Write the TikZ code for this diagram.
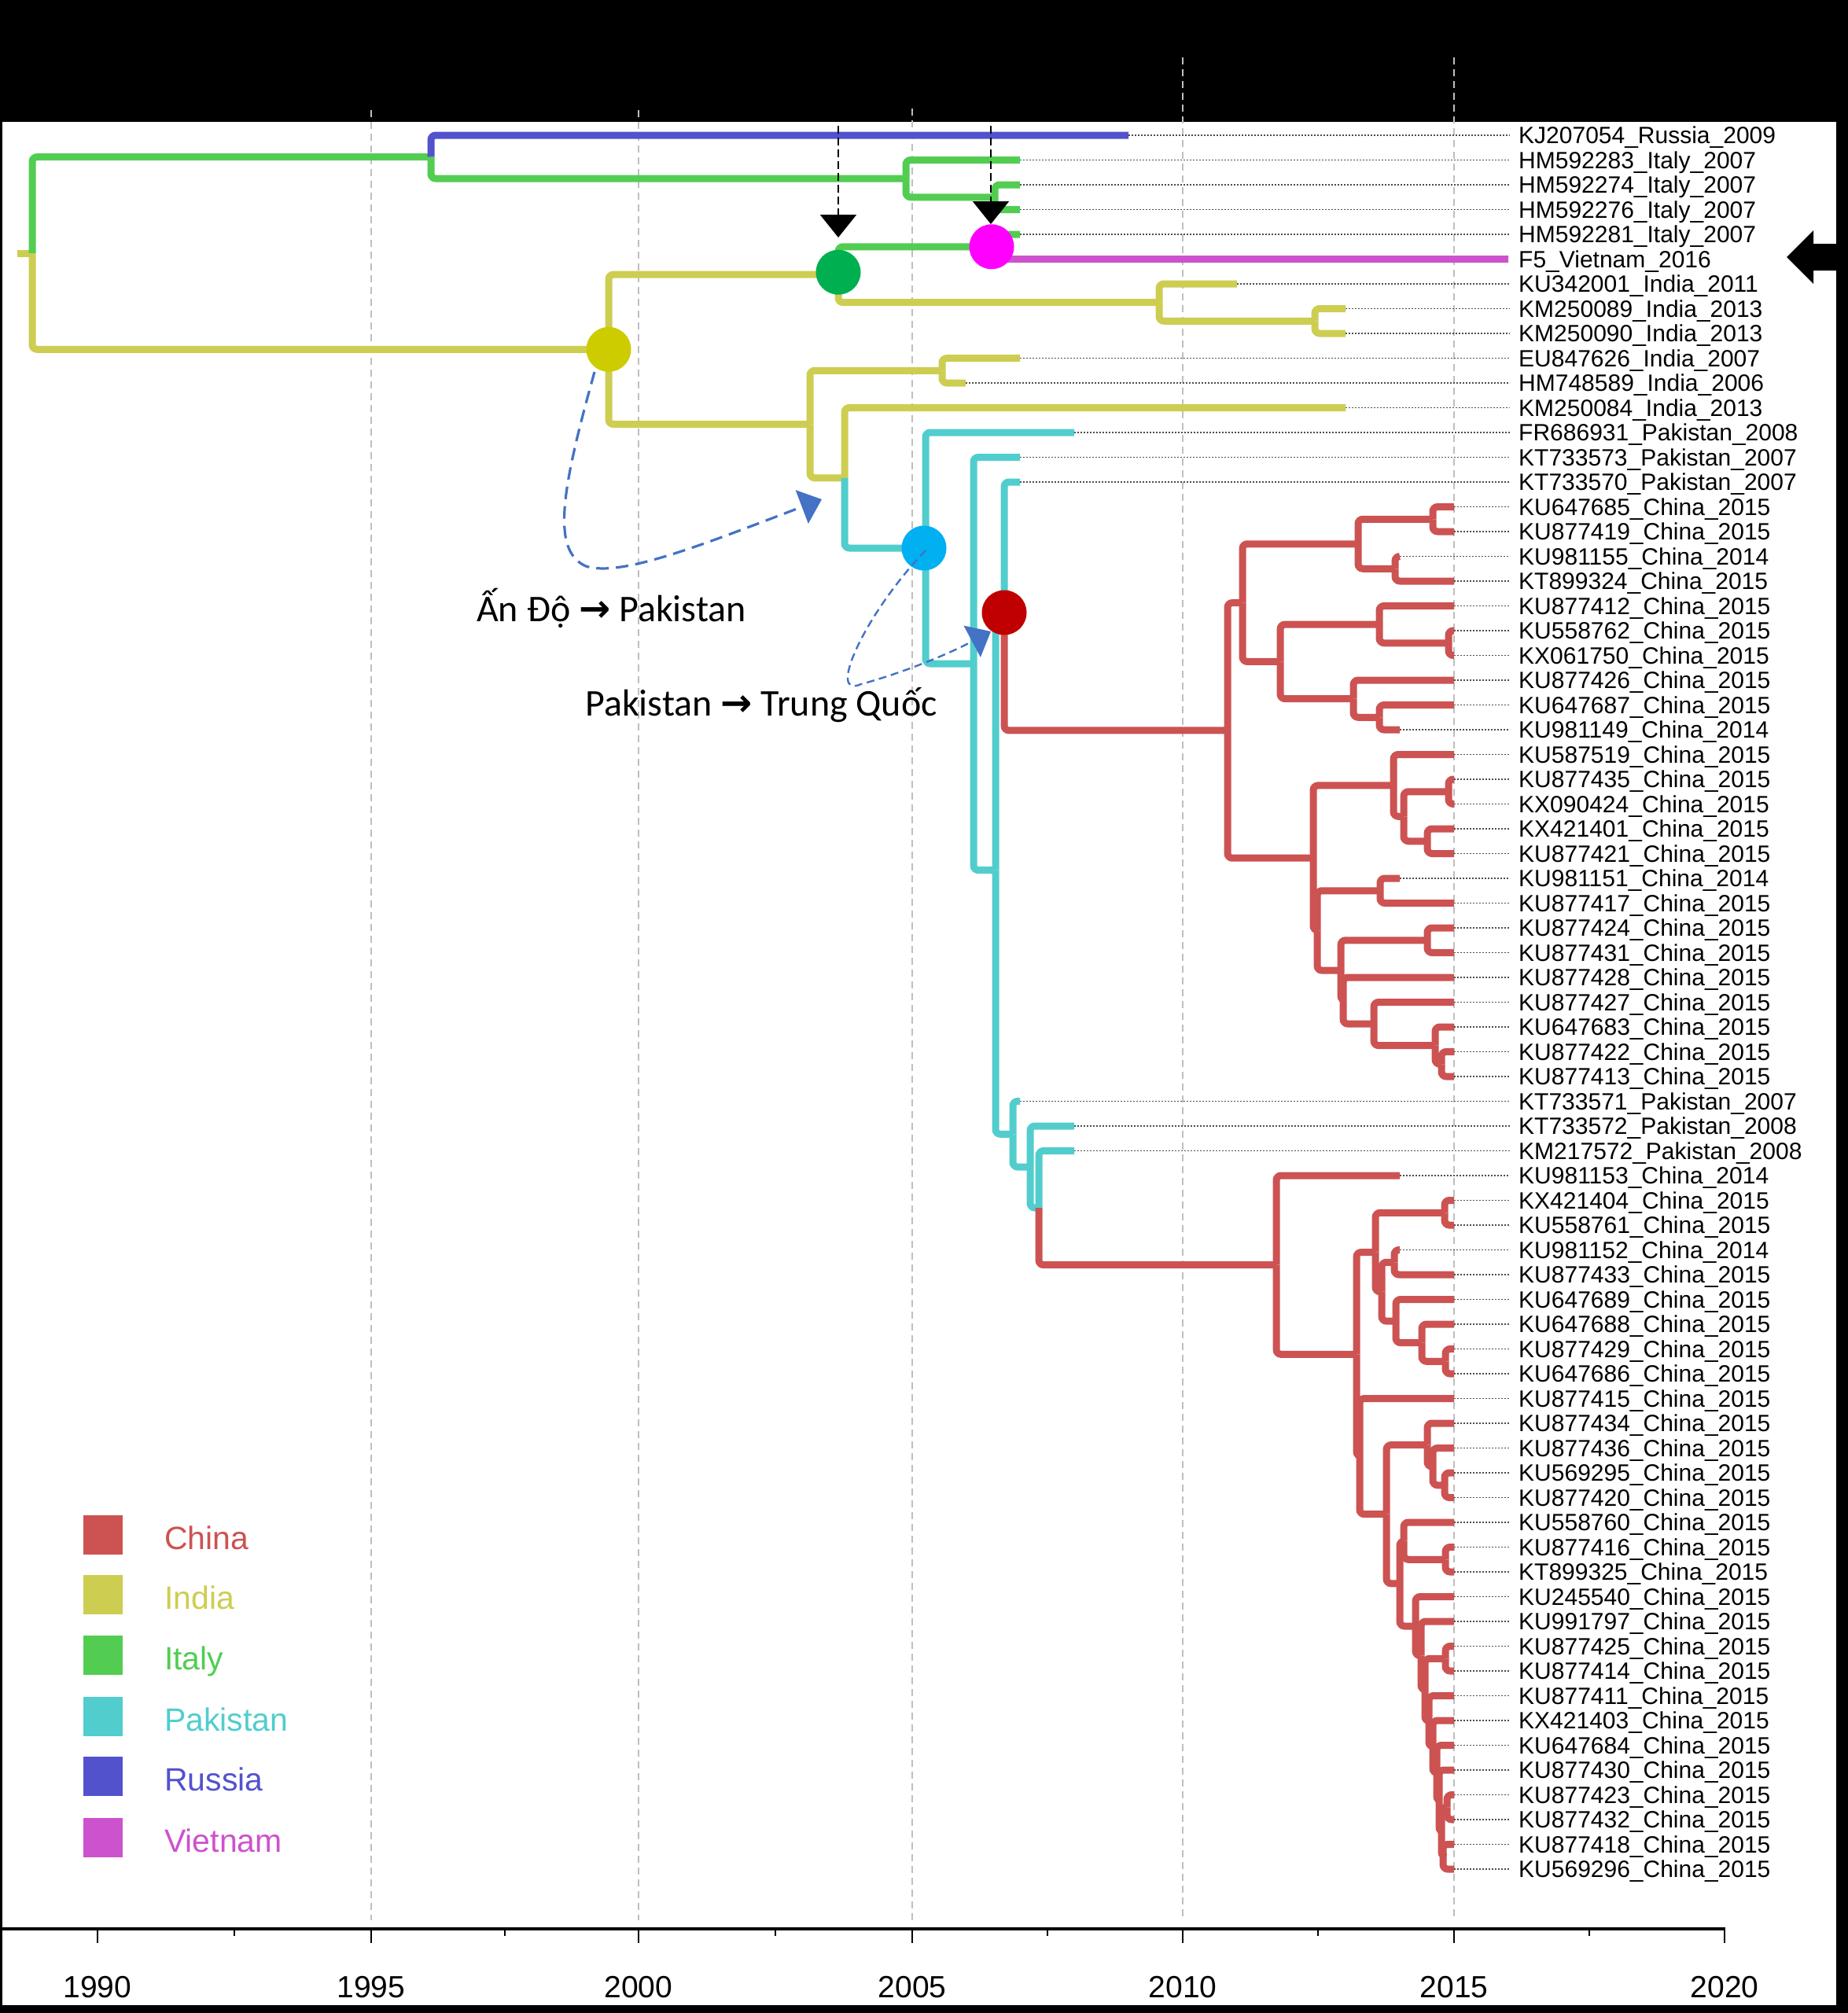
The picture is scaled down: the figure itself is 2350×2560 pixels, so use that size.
\documentclass[tikz,border=0pt]{standalone}
\usepackage{fontspec}
\setmainfont{Liberation Sans}
\newfontfamily\calib{Carlito}
\newfontfamily\dv{DejaVu Sans}
\usetikzlibrary{arrows.meta}
\definecolor{cChina}{RGB}{205,82,82}
\definecolor{cIndia}{RGB}{205,205,82}
\definecolor{cItaly}{RGB}{82,205,82}
\definecolor{cPak}{RGB}{82,205,205}
\definecolor{cRus}{RGB}{82,82,205}
\definecolor{cVN}{RGB}{205,82,205}
\definecolor{annblue}{RGB}{68,114,196}
\definecolor{nYellow}{RGB}{204,204,0}
\definecolor{nGreen}{RGB}{0,176,80}
\definecolor{nMag}{RGB}{255,0,255}
\definecolor{nCyan}{RGB}{0,176,240}
\definecolor{nRed}{RGB}{192,0,0}
\newcommand\mytip[3]{%
  \pgfmathsetmacro\tipy{172+(#1-1)*31.5}%
  \coordinate (t#1) at (#2,\tipy);
  \node[lab] (l#1) at (1931,\tipy) {#3};
  \draw[leader] (t#1) -- ([xshift=-11pt]l#1.west);
}
\newcommand\tbr[3]{\draw[branch,draw=#1] (#2) |- (#3);}
\begin{document}
\begin{tikzpicture}[x=1pt,y=-1pt,
  branch/.style={line width=9pt, rounded corners=6pt},
  leader/.style={draw=black!70, line width=1.8pt, dash pattern=on 1.6pt off 2.4pt},
  gridln/.style={draw=black!25, line width=2pt, dash pattern=on 9pt off 6pt},
  lab/.style={anchor=west, inner sep=0pt, text height=21pt, text depth=0pt, font=\fontsize{30}{36}\selectfont},
  ndot/.style={circle, minimum size=57pt, inner sep=0pt, draw=none},
  blackarr/.style={draw=black, line width=2pt, dash pattern=on 10pt off 5pt, -{Triangle[width=46pt,length=29pt]}},
  annarr/.style={draw=annblue, line width=3.2pt, dash pattern=on 16pt off 9pt, -{Triangle[width=45pt,length=27pt]}},
  annarrthin/.style={draw=annblue, line width=2.4pt, dash pattern=on 10pt off 6pt, -{Triangle[width=45pt,length=27pt]}},
  ann/.style={anchor=base west, inner sep=0pt, font=\calib\fontsize{48}{58}\selectfont},
  legsq/.style={minimum size=50pt, inner sep=0pt, draw=none},
  leglab/.style={anchor=west, inner sep=0pt, text height=29pt, text depth=0pt, font=\fontsize{41}{49}\selectfont},
  yearlab/.style={anchor=center, inner sep=0pt, text height=28pt, text depth=0pt, font=\fontsize{39}{47}\selectfont}
]
\useasboundingbox (0,0) rectangle (2350,2560);
\fill[black] (0,0) rectangle (2350,2560);
\fill[white] (3,155) rectangle (2335,2550);

% grid lines
\foreach \gx/\gy in {472/140, 812/140, 1160/138, 1504/73, 1849/73}
  \draw[gridln] (\gx,\gy) -- (\gx,2442);

% tips
\mytip{1}{1435}{KJ207054\_Russia\_2009}
\mytip{2}{1297}{HM592283\_Italy\_2007}
\mytip{3}{1297}{HM592274\_Italy\_2007}
\mytip{4}{1297}{HM592276\_Italy\_2007}
\mytip{5}{1297}{HM592281\_Italy\_2007}
\coordinate (t6) at (1918,329.5);
\node[lab] (l6) at (1931,329.5) {F5\_Vietnam\_2016};
\mytip{7}{1573}{KU342001\_India\_2011}
\mytip{8}{1711}{KM250089\_India\_2013}
\mytip{9}{1711}{KM250090\_India\_2013}
\mytip{10}{1297}{EU847626\_India\_2007}
\mytip{11}{1228}{HM748589\_India\_2006}
\mytip{12}{1711}{KM250084\_India\_2013}
\mytip{13}{1366}{FR686931\_Pakistan\_2008}
\mytip{14}{1297}{KT733573\_Pakistan\_2007}
\mytip{15}{1297}{KT733570\_Pakistan\_2007}
\mytip{16}{1849}{KU647685\_China\_2015}
\mytip{17}{1849}{KU877419\_China\_2015}
\mytip{18}{1780}{KU981155\_China\_2014}
\mytip{19}{1849}{KT899324\_China\_2015}
\mytip{20}{1849}{KU877412\_China\_2015}
\mytip{21}{1849}{KU558762\_China\_2015}
\mytip{22}{1849}{KX061750\_China\_2015}
\mytip{23}{1849}{KU877426\_China\_2015}
\mytip{24}{1849}{KU647687\_China\_2015}
\mytip{25}{1780}{KU981149\_China\_2014}
\mytip{26}{1849}{KU587519\_China\_2015}
\mytip{27}{1849}{KU877435\_China\_2015}
\mytip{28}{1849}{KX090424\_China\_2015}
\mytip{29}{1849}{KX421401\_China\_2015}
\mytip{30}{1849}{KU877421\_China\_2015}
\mytip{31}{1780}{KU981151\_China\_2014}
\mytip{32}{1849}{KU877417\_China\_2015}
\mytip{33}{1849}{KU877424\_China\_2015}
\mytip{34}{1849}{KU877431\_China\_2015}
\mytip{35}{1849}{KU877428\_China\_2015}
\mytip{36}{1849}{KU877427\_China\_2015}
\mytip{37}{1849}{KU647683\_China\_2015}
\mytip{38}{1849}{KU877422\_China\_2015}
\mytip{39}{1849}{KU877413\_China\_2015}
\mytip{40}{1297}{KT733571\_Pakistan\_2007}
\mytip{41}{1366}{KT733572\_Pakistan\_2008}
\mytip{42}{1366}{KM217572\_Pakistan\_2008}
\mytip{43}{1780}{KU981153\_China\_2014}
\mytip{44}{1849}{KX421404\_China\_2015}
\mytip{45}{1849}{KU558761\_China\_2015}
\mytip{46}{1780}{KU981152\_China\_2014}
\mytip{47}{1849}{KU877433\_China\_2015}
\mytip{48}{1849}{KU647689\_China\_2015}
\mytip{49}{1849}{KU647688\_China\_2015}
\mytip{50}{1849}{KU877429\_China\_2015}
\mytip{51}{1849}{KU647686\_China\_2015}
\mytip{52}{1849}{KU877415\_China\_2015}
\mytip{53}{1849}{KU877434\_China\_2015}
\mytip{54}{1849}{KU877436\_China\_2015}
\mytip{55}{1849}{KU569295\_China\_2015}
\mytip{56}{1849}{KU877420\_China\_2015}
\mytip{57}{1849}{KU558760\_China\_2015}
\mytip{58}{1849}{KU877416\_China\_2015}
\mytip{59}{1849}{KT899325\_China\_2015}
\mytip{60}{1849}{KU245540\_China\_2015}
\mytip{61}{1849}{KU991797\_China\_2015}
\mytip{62}{1849}{KU877425\_China\_2015}
\mytip{63}{1849}{KU877414\_China\_2015}
\mytip{64}{1849}{KU877411\_China\_2015}
\mytip{65}{1849}{KX421403\_China\_2015}
\mytip{66}{1849}{KU647684\_China\_2015}
\mytip{67}{1849}{KU877430\_China\_2015}
\mytip{68}{1849}{KU877423\_China\_2015}
\mytip{69}{1849}{KU877432\_China\_2015}
\mytip{70}{1849}{KU877418\_China\_2015}
\mytip{71}{1849}{KU569296\_China\_2015}

% internal nodes
\coordinate (rs) at (22,322);
\coordinate (root) at (41,322);
\coordinate (A) at (548,199.6);
\coordinate (I1) at (1152,227.1);
\coordinate (I2) at (1265,250.75);
\coordinate (B) at (774,444.3);
\coordinate (G) at (1066,349.2);
\coordinate (M) at (1263,313.75);
\coordinate (N1) at (1474,384.6);
\coordinate (N2) at (1672,408.25);
\coordinate (P1) at (1030,539.5);
\coordinate (P2) at (1198,471.25);
\coordinate (P3) at (1074,607.75);
\coordinate (Q) at (1177,697);
\coordinate (Q2) at (1238,844);
\coordinate (Y) at (1266,1106.6);
\coordinate (X) at (1277,771);
\coordinate (Z1) at (1288,1442.3);
\coordinate (Z2) at (1310,1484);
\coordinate (Z3) at (1321,1536);
\coordinate (R1) at (1561,928.9);
\coordinate (R2) at (1580,766.6);
\coordinate (R3) at (1727,691.75);
\coordinate (R4) at (1822,660.25);
\coordinate (R5) at (1774,723.25);
\coordinate (R6) at (1628,841.4);
\coordinate (R7) at (1754,794.1);
\coordinate (R8) at (1842,817.75);
\coordinate (R9) at (1721,888.6);
\coordinate (R10) at (1754,912.25);
\coordinate (R11) at (1670,1091.2);
\coordinate (R12) at (1772,998.9);
\coordinate (R13) at (1785,1038.25);
\coordinate (R14) at (1842,1006.75);
\coordinate (R15) at (1815,1069.75);
\coordinate (R16) at (1675,1183.4);
\coordinate (R17) at (1755,1132.75);
\coordinate (R18) at (1705,1234.1);
\coordinate (R19) at (1815,1195.75);
\coordinate (R18b) at (1708,1272.5);
\coordinate (R22) at (1747,1302.1);
\coordinate (R23) at (1825,1329.6);
\coordinate (R24) at (1833,1353.25);
\coordinate (C1) at (1623,1608.6);
\coordinate (C2) at (1725,1722.3);
\coordinate (C3) at (1749,1592.5);
\coordinate (C4) at (1837,1542.25);
\coordinate (C3b) at (1757,1642.7);
\coordinate (C5) at (1773,1605.25);
\coordinate (C6) at (1775,1680.1);
\coordinate (C7) at (1808,1707.6);
\coordinate (C8) at (1838,1731.25);
\coordinate (C9) at (1729,1852.1);
\coordinate (C10) at (1763,1925.7);
\coordinate (C11) at (1815,1837.6);
\coordinate (C11b) at (1822,1865.1);
\coordinate (C11c) at (1837,1888.75);
\coordinate (C12) at (1780,2013.8);
\coordinate (C13) at (1785,1959.6);
\coordinate (C13b) at (1838,1983.25);
\coordinate (C15) at (1800,2068);
\coordinate (C15b) at (1807,2105.6);
\coordinate (C15c) at (1812,2149.1);
\coordinate (C16) at (1838,2109.25);
\coordinate (C15d) at (1817,2189);
\coordinate (C15e) at (1822,2221.5);
\coordinate (C15f) at (1827,2254.9);
\coordinate (C15g) at (1830,2290.4);
\coordinate (C15h) at (1833,2329.75);
\coordinate (C17) at (1840,2298.25);
\coordinate (C18) at (1835,2361.25);

% branches
\draw[branch,draw=cIndia,rounded corners=0pt] (rs) -- (root);
\tbr{cItaly}{root}{A} \tbr{cIndia}{root}{B}
\tbr{cRus}{A}{t1} \tbr{cItaly}{A}{I1}
\tbr{cItaly}{I1}{t2} \tbr{cItaly}{I1}{I2}
\tbr{cItaly}{I2}{t3} \tbr{cItaly}{I2}{t4}
\tbr{cIndia}{B}{G} \tbr{cIndia}{B}{P1}
\tbr{cItaly}{G}{M} \tbr{cIndia}{G}{N1}
\tbr{cItaly}{M}{t5} \tbr{cVN}{M}{t6}
\tbr{cIndia}{N1}{t7} \tbr{cIndia}{N1}{N2}
\tbr{cIndia}{N2}{t8} \tbr{cIndia}{N2}{t9}
\tbr{cIndia}{P1}{P2} \tbr{cIndia}{P1}{P3}
\tbr{cIndia}{P2}{t10} \tbr{cIndia}{P2}{t11}
\tbr{cIndia}{P3}{t12} \tbr{cPak}{P3}{Q}
\tbr{cPak}{Q}{t13} \tbr{cPak}{Q}{Q2}
\tbr{cPak}{Q2}{t14} \tbr{cPak}{Q2}{Y}
\tbr{cPak}{Y}{X} \tbr{cPak}{Y}{Z1}
\tbr{cPak}{X}{t15} \tbr{cChina}{X}{R1}
\tbr{cPak}{Z1}{t40} \tbr{cPak}{Z1}{Z2}
\tbr{cPak}{Z2}{t41} \tbr{cPak}{Z2}{Z3}
\tbr{cPak}{Z3}{t42} \tbr{cChina}{Z3}{C1}
% red clade 1
\tbr{cChina}{R1}{R2} \tbr{cChina}{R1}{R11}
\tbr{cChina}{R2}{R3} \tbr{cChina}{R2}{R6}
\tbr{cChina}{R3}{R4} \tbr{cChina}{R3}{R5}
\tbr{cChina}{R4}{t16} \tbr{cChina}{R4}{t17}
\tbr{cChina}{R5}{t18} \tbr{cChina}{R5}{t19}
\tbr{cChina}{R6}{R7} \tbr{cChina}{R6}{R9}
\tbr{cChina}{R7}{t20} \tbr{cChina}{R7}{R8}
\tbr{cChina}{R8}{t21} \tbr{cChina}{R8}{t22}
\tbr{cChina}{R9}{t23} \tbr{cChina}{R9}{R10}
\tbr{cChina}{R10}{t24} \tbr{cChina}{R10}{t25}
\tbr{cChina}{R11}{R12} \tbr{cChina}{R11}{R16}
\tbr{cChina}{R12}{t26} \tbr{cChina}{R12}{R13}
\tbr{cChina}{R13}{R14} \tbr{cChina}{R13}{R15}
\tbr{cChina}{R14}{t27} \tbr{cChina}{R14}{t28}
\tbr{cChina}{R15}{t29} \tbr{cChina}{R15}{t30}
\tbr{cChina}{R16}{R17} \tbr{cChina}{R16}{R18}
\tbr{cChina}{R17}{t31} \tbr{cChina}{R17}{t32}
\tbr{cChina}{R18}{R19} \tbr{cChina}{R18}{R18b}
\tbr{cChina}{R19}{t33} \tbr{cChina}{R19}{t34}
\tbr{cChina}{R18b}{t35} \tbr{cChina}{R18b}{R22}
\tbr{cChina}{R22}{t36} \tbr{cChina}{R22}{R23}
\tbr{cChina}{R23}{t37} \tbr{cChina}{R23}{R24}
\tbr{cChina}{R24}{t38} \tbr{cChina}{R24}{t39}
% red clade 2
\tbr{cChina}{C1}{t43} \tbr{cChina}{C1}{C2}
\tbr{cChina}{C2}{C3} \tbr{cChina}{C2}{C9}
\tbr{cChina}{C3}{C4} \tbr{cChina}{C3}{C3b}
\tbr{cChina}{C4}{t44} \tbr{cChina}{C4}{t45}
\tbr{cChina}{C3b}{C5} \tbr{cChina}{C3b}{C6}
\tbr{cChina}{C5}{t46} \tbr{cChina}{C5}{t47}
\tbr{cChina}{C6}{t48} \tbr{cChina}{C6}{C7}
\tbr{cChina}{C7}{t49} \tbr{cChina}{C7}{C8}
\tbr{cChina}{C8}{t50} \tbr{cChina}{C8}{t51}
\tbr{cChina}{C9}{t52} \tbr{cChina}{C9}{C10}
\tbr{cChina}{C10}{C11} \tbr{cChina}{C10}{C12}
\tbr{cChina}{C11}{t53} \tbr{cChina}{C11}{C11b}
\tbr{cChina}{C11b}{t54} \tbr{cChina}{C11b}{C11c}
\tbr{cChina}{C11c}{t55} \tbr{cChina}{C11c}{t56}
\tbr{cChina}{C12}{C13} \tbr{cChina}{C12}{C15}
\tbr{cChina}{C13}{t57} \tbr{cChina}{C13}{C13b}
\tbr{cChina}{C13b}{t58} \tbr{cChina}{C13b}{t59}
\tbr{cChina}{C15}{t60} \tbr{cChina}{C15}{C15b}
\tbr{cChina}{C15b}{t61} \tbr{cChina}{C15b}{C15c}
\tbr{cChina}{C15c}{C16} \tbr{cChina}{C15c}{C15d}
\tbr{cChina}{C16}{t62} \tbr{cChina}{C16}{t63}
\tbr{cChina}{C15d}{t64} \tbr{cChina}{C15d}{C15e}
\tbr{cChina}{C15e}{t65} \tbr{cChina}{C15e}{C15f}
\tbr{cChina}{C15f}{t66} \tbr{cChina}{C15f}{C15g}
\tbr{cChina}{C15g}{t67} \tbr{cChina}{C15g}{C15h}
\tbr{cChina}{C15h}{C17} \tbr{cChina}{C15h}{C18}
\tbr{cChina}{C17}{t68} \tbr{cChina}{C17}{t69}
\tbr{cChina}{C18}{t70} \tbr{cChina}{C18}{t71}

% highlighted nodes
\node[ndot, fill=nYellow] (cB) at (B) {};
\node[ndot, fill=nGreen] (cG) at ([yshift=3pt]G) {};
\node[ndot, fill=nMag] (cM) at ([xshift=-2pt]M) {};
\node[ndot, fill=nCyan] (cQ) at ([xshift=-2pt]Q) {};
\node[ndot, fill=nRed] (cX) at ([yshift=-8pt]X) {};

% black dashed arrows from the top
\coordinate (ga0) at (1066,130);
\coordinate (ga1) at (1066,302);
\coordinate (ma0) at (1260,130);
\coordinate (ma1) at (1260,285);
\draw[blackarr] (ga0) -- (ga1);
\draw[blackarr] (ma0) -- (ma1);

% blue dashed migration arrows
\coordinate (a1s) at (756,473);
\coordinate (a1m) at (745,720);
\coordinate (a1e) at (1045,635);
\draw[annarr] (a1s) .. controls (715,620) and (700,700) .. (a1m) .. controls (790,735) and (900,690) .. (a1e);
\coordinate (a2s) at (1177,700);
\coordinate (a2m) at (1095,870);
\coordinate (a2e) at (1260,803);
\draw[annarrthin] (a2s) .. controls (1100,780) and (1050,890) .. (a2m) .. controls (1140,858) and (1200,835) .. (a2e);

% annotations
\node[ann] (an1) at (606,790) {Ấn Độ {\dv\bfseries →} Pakistan};
\node[ann] (an2) at (744,910) {Pakistan {\dv\bfseries →} Trung Quốc};
\node[ann, text=black] (an3) at (760,110) {Ấn Độ {\dv\bfseries →} Italy};
\node[ann, text=black] (an4) at (1312,68) {Italy {\dv\bfseries →} Việt Nam};

% right pointer arrow
\fill[black] (2272,327) -- (2306,293) -- (2306,310) -- (2340,310) -- (2340,344) -- (2306,344) -- (2306,361) -- cycle;

% legend
\foreach \nm/\col/\cy in {China/cChina/1952, India/cIndia/2028, Italy/cItaly/2105, Pakistan/cPak/2182.5, Russia/cRus/2259, Vietnam/cVN/2336.5}{
  \node[legsq, fill=\col] (sq\nm) at (131,\cy) {};
  \node[leglab, text=\col] (lg\nm) at (209,\cy+4) {\nm};
}

% axis
\coordinate (axl) at (3,2453);
\coordinate (axr) at (2194,2453);
\draw[line width=3.5pt] (axl) -- (axr);
\foreach \tx/\yr in {124/1990, 472/1995, 812/2000, 1160/2005, 1504/2010, 1849/2015, 2193/2020}{
  \draw[line width=2.5pt] (\tx,2453) -- (\tx,2471);
  \node[yearlab] (yr\yr) at (\tx,2526) {\yr};
}
\foreach \tx in {298, 642, 986, 1332, 1676, 2021}
  \draw[line width=2.5pt] (\tx,2453) -- (\tx,2462);
\end{tikzpicture}
\end{document}
